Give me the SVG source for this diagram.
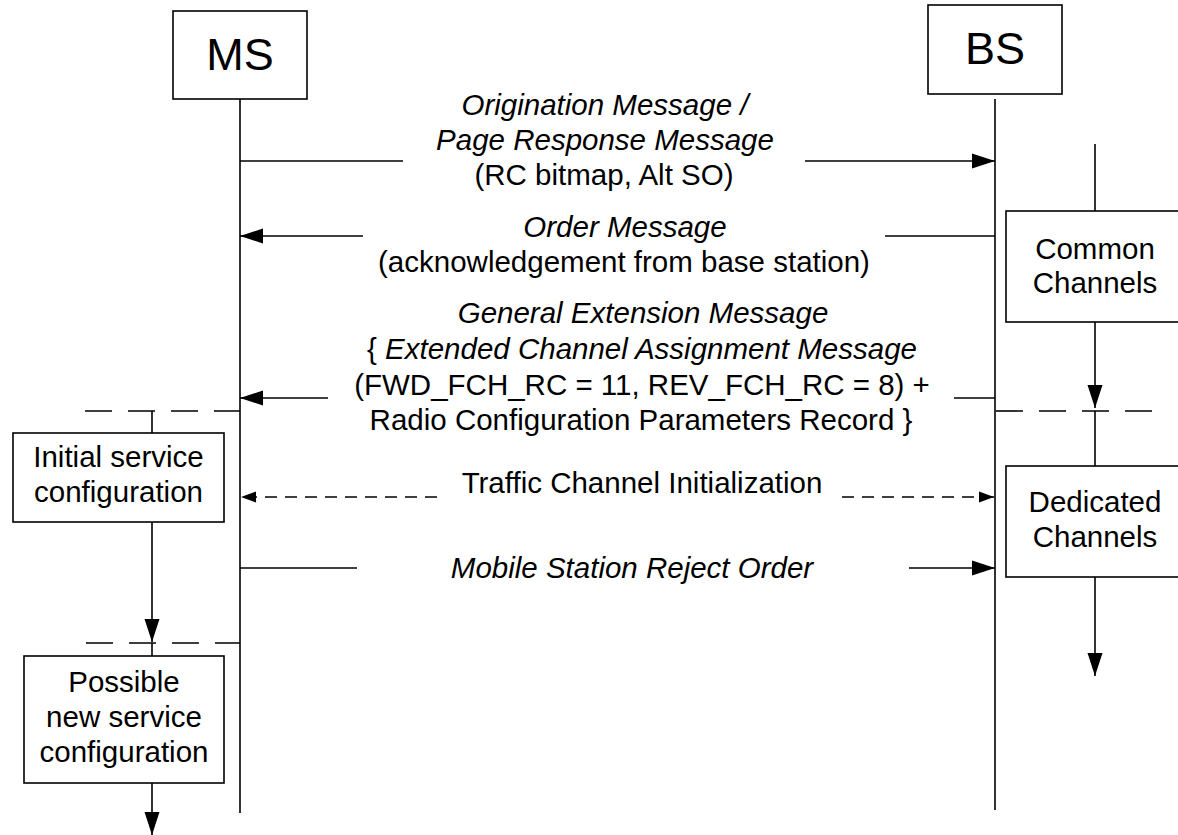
<svg xmlns="http://www.w3.org/2000/svg" width="1178" height="835" viewBox="0 0 1178 835">
<style>
text{font-family:"Liberation Sans",Arial,sans-serif;fill:#000;font-size:29.5px}
.it{font-style:italic}
.m{text-anchor:middle}
.box{fill:#fff;stroke:#000;stroke-width:1.6}
.ln{fill:none;stroke:#000;stroke-width:1.6}
.ph{fill:none;stroke:#000;stroke-width:1.6;stroke-dasharray:27 16}
.tr{fill:none;stroke:#000;stroke-width:1.6;stroke-dasharray:12 8}
</style>
<defs>
<marker id="ah" markerUnits="userSpaceOnUse" markerWidth="23" markerHeight="16" refX="23" refY="8" orient="auto"><path d="M0,0.5 L23,8 L0,15.5 z" fill="#000"/></marker>
<marker id="as" markerUnits="userSpaceOnUse" markerWidth="15" markerHeight="12" refX="15" refY="6" orient="auto"><path d="M0,0.5 L15,6 L0,11.5 z" fill="#000"/></marker>
</defs>
<rect width="1178" height="835" fill="#fff"/>
<g id="connectors">
<line class="ln" x1="240" y1="99" x2="240" y2="813"/>
<line class="ln" x1="995" y1="99" x2="995" y2="810"/>
<line class="ln" x1="240" y1="161" x2="403" y2="161"/>
<line class="ln" x1="805" y1="161" x2="995" y2="161" marker-end="url(#ah)"/>
<line class="ln" x1="995" y1="236" x2="885" y2="236"/>
<line class="ln" x1="363" y1="236" x2="240" y2="236" marker-end="url(#ah)"/>
<line class="ln" x1="995" y1="398" x2="954" y2="398"/>
<line class="ln" x1="328" y1="398" x2="240" y2="398" marker-end="url(#ah)"/>
<line class="tr" x1="437" y1="497" x2="241" y2="497" marker-end="url(#as)"/>
<line class="tr" x1="842" y1="497" x2="994" y2="497" marker-end="url(#as)"/>
<line class="ln" x1="240" y1="568" x2="357" y2="568"/>
<line class="ln" x1="909" y1="568" x2="995" y2="568" marker-end="url(#ah)"/>
<line class="ln" x1="1095" y1="144" x2="1095" y2="211"/>
<line class="ln" x1="1095" y1="322" x2="1095" y2="408" marker-end="url(#ah)"/>
<line class="ln" x1="1095" y1="411" x2="1095" y2="466"/>
<line class="ln" x1="1095" y1="577" x2="1095" y2="676" marker-end="url(#ah)"/>
<line class="ph" x1="996" y1="411" x2="1152" y2="411"/>
<line class="ph" x1="85" y1="411" x2="240" y2="411"/>
<line class="ph" x1="86" y1="643" x2="240" y2="643"/>
<line class="ln" x1="152" y1="411" x2="152" y2="433"/>
<line class="ln" x1="152" y1="522" x2="152" y2="642" marker-end="url(#ah)"/>
<line class="ln" x1="152" y1="643" x2="152" y2="656"/>
<line class="ln" x1="152" y1="783" x2="152" y2="835" marker-end="url(#ah)"/>
</g>
<g id="labels">
<text class="m it" x="605" y="115">Origination Message /</text>
<text class="m it" x="605" y="150">Page Response Message</text>
<text class="m" x="604" y="185">(RC bitmap, Alt SO)</text>
<text class="m it" x="625" y="237">Order Message</text>
<text class="m" x="624" y="272">(acknowledgement from base station)</text>
<text class="m it" x="643" y="323">General Extension Message</text>
<text class="m" x="642" y="359">{ <tspan class="it">Extended Channel Assignment Message</tspan></text>
<text class="m" x="642" y="395">(FWD_FCH_RC = 11, REV_FCH_RC = 8) +</text>
<text class="m" x="641" y="430">Radio Configuration Parameters Record }</text>
<text class="m" x="642" y="493">Traffic Channel Initialization</text>
<text class="m it" x="632" y="578">Mobile Station Reject Order</text>
</g>
<g id="ms">
<rect class="box" x="173" y="11" width="134" height="88"/>
<text class="m" x="240" y="70" style="font-size:45px">MS</text>
</g>
<g id="bs">
<rect class="box" x="928" y="5" width="134" height="89"/>
<text class="m" x="995" y="64" style="font-size:45px">BS</text>
</g>
<g id="common">
<rect class="box" x="1006" y="211" width="178" height="111"/>
<text class="m" x="1095" y="259">Common</text>
<text class="m" x="1095" y="293">Channels</text>
</g>
<g id="dedicated">
<rect class="box" x="1006" y="466" width="178" height="111"/>
<text class="m" x="1095" y="512">Dedicated</text>
<text class="m" x="1095" y="547">Channels</text>
</g>
<g id="initial">
<rect class="box" x="13" y="433" width="211" height="89"/>
<text class="m" x="118.5" y="467">Initial service</text>
<text class="m" x="118.5" y="502">configuration</text>
</g>
<g id="possible">
<rect class="box" x="24" y="656" width="200" height="127"/>
<text class="m" x="124" y="692">Possible</text>
<text class="m" x="124" y="727">new service</text>
<text class="m" x="124" y="762">configuration</text>
</g>
</svg>
